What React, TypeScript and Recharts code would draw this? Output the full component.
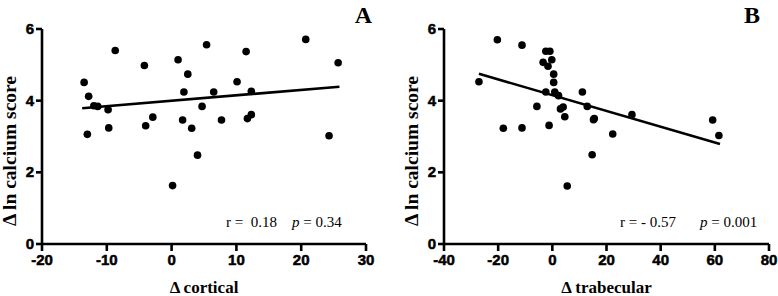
import React from "react";
import {
  ScatterChart,
  Scatter,
  XAxis,
  YAxis,
  ReferenceLine,
} from "recharts";

// panel A: Δ cortical vs Δ ln calcium score
const corticalX = [
  -13.5, -12.8, -13.0, -12.0, -11.4, -9.8, -9.7, -8.7, -4.2, -4.0, -2.9, 0.15,
  1.0, 1.7, 1.9, 2.5, 3.1, 4.0, 4.7, 5.4, 6.5, 7.7, 10.1, 11.5, 11.7, 12.3,
  12.3, 20.7, 24.3, 25.7,
];
const corticalY = [
  4.51, 4.12, 3.06, 3.86, 3.84, 3.75, 3.24, 5.4, 4.98, 3.3, 3.54, 1.63, 5.14,
  3.46, 4.24, 4.74, 3.23, 2.48, 3.84, 5.56, 4.24, 3.46, 4.53, 5.37, 3.5, 4.26,
  3.61, 5.71, 3.02, 5.06,
];
const corticalFit = [
  { x: -13.8, y: 3.79 },
  { x: 25.9, y: 4.39 },
];

// panel B: Δ trabecular vs Δ ln calcium score
const trabecularX = [
  -27.1, -20.3, -18.1, -11.2, -11.2, -5.7, -3.4, -2.4, -0.9, -1.6, -0.2, 0.5,
  0.5, -2.4, 0.9, 2.3, -1.2, 3.0, 4.0, 4.6, 5.5, 11.1, 12.9, 14.7, 15.2, 15.5,
  22.3, 29.4, 59.2, 61.5,
];
const trabecularY = [
  4.53, 5.7, 3.23, 5.55, 3.24, 3.84, 5.07, 5.38, 5.38, 4.96, 5.14, 4.74, 4.51,
  4.24, 4.24, 4.14, 3.31, 3.77, 3.82, 3.55, 1.62, 4.24, 3.84, 2.49, 3.47, 3.5,
  3.07, 3.61, 3.46, 3.03,
];
const trabecularFit = [
  { x: -27.1, y: 4.75 },
  { x: 61.9, y: 2.79 },
];

const yTicks = [0, 2, 4, 6];
const corticalTicks = [-20, -10, 0, 10, 20, 30];
const trabecularTicks = [-40, -20, 0, 20, 40, 60, 80];

const SANS = "'Liberation Sans', Arial, sans-serif";
const SERIF = "'Liberation Serif', 'Times New Roman', serif";

// the scanned figure has very heavy tick digits, a thin stroke thickens them
const tickFont: React.CSSProperties = {
  fontFamily: SANS,
  fontWeight: 700,
  fontSize: 15,
  fill: "#000",
  stroke: "#000",
  strokeWidth: 0.5,
};
const titleFont: React.CSSProperties = {
  fontFamily: SERIF,
  fontWeight: 700,
  fill: "#000",
};

const axisStroke = { stroke: "#000", strokeWidth: 2.6 };

const Dot = (props: any) => {
  const { cx, cy } = props;
  if (cx == null || cy == null) return <g />;
  return <circle cx={cx} cy={cy} r={3.8} fill="#000" />;
};

const XTick = (props: any) => {
  const { x, y, payload } = props;
  return (
    <text x={x} y={y + 11} textAnchor="middle" style={tickFont}>
      {payload.value}
    </text>
  );
};

const YTick = (props: any) => {
  const { x, y, payload } = props;
  return (
    <text x={x} y={y + 5} textAnchor="end" style={tickFont}>
      {payload.value}
    </text>
  );
};

function Panel({
  xs,
  ys,
  fit,
  xTicks,
  xLabel,
  letter,
  stats,
  left,
  width,
  yAxisWidth,
  marginRight,
}: {
  xs: number[];
  ys: number[];
  fit: { x: number; y: number }[];
  xTicks: number[];
  xLabel: string;
  letter: string;
  stats: React.ReactNode;
  left: number;
  width: number;
  yAxisWidth: number;
  marginRight: number;
}) {
  const data = xs.map((x, i) => ({ x, y: ys[i] }));
  const labelX = yAxisWidth - 33;
  const plotMid = (yAxisWidth + width - marginRight) / 2;
  return (
    <div style={{ position: "absolute", left, top: 0, width, height: 296 }}>
      <ScatterChart
        width={width}
        height={296}
        margin={{ top: 29, right: marginRight, bottom: 0, left: 0 }}
      >
        <XAxis
          type="number"
          dataKey="x"
          domain={[xTicks[0], xTicks[xTicks.length - 1]]}
          ticks={xTicks}
          height={52}
          tick={<XTick />}
          tickSize={7}
          tickMargin={3}
          axisLine={axisStroke}
          tickLine={axisStroke}
          label={{
            value: xLabel,
            content: () => (
              <text
                x={plotMid}
                y={293}
                textAnchor="middle"
                style={{ ...titleFont, fontSize: 17 }}
              >
                {xLabel}
              </text>
            ),
          }}
        />
        <YAxis
          type="number"
          dataKey="y"
          domain={[0, 6]}
          ticks={yTicks}
          width={yAxisWidth}
          tick={<YTick />}
          tickSize={6}
          tickMargin={2}
          axisLine={axisStroke}
          tickLine={axisStroke}
          label={{
            value: "Δ ln calcium score",
            content: () => (
              <text
                x={labelX}
                y={151}
                transform={`rotate(-90, ${labelX}, 151)`}
                textAnchor="middle"
                dominantBaseline="central"
                style={{ ...titleFont, fontSize: 19.5 }}
              >
                Δ ln calcium score
              </text>
            ),
          }}
        />
        <ReferenceLine
          segment={fit}
          stroke="#000"
          strokeWidth={2.6}
          ifOverflow="visible"
        />
        <Scatter data={data} shape={<Dot />} isAnimationActive={false} />
      </ScatterChart>
      <div
        style={{
          position: "absolute",
          right: 18,
          top: 2,
          fontFamily: SERIF,
          fontWeight: 700,
          fontSize: 24,
          lineHeight: "26px",
          color: "#000",
        }}
      >
        {letter}
      </div>
      {stats}
    </div>
  );
}

const statStyle: React.CSSProperties = {
  position: "absolute",
  top: 214,
  fontFamily: SERIF,
  fontSize: 15,
  lineHeight: "16px",
  color: "#000",
  whiteSpace: "pre",
};

export default function App() {
  return (
    <div
      style={{
        position: "absolute",
        left: 0,
        top: 0,
        width: 778,
        height: 296,
        background: "#fff",
      }}
    >
      <Panel
        xs={corticalX}
        ys={corticalY}
        fit={corticalFit}
        xTicks={corticalTicks}
        xLabel="Δ cortical"
        letter="A"
        left={0}
        width={390}
        yAxisWidth={42}
        marginRight={24}
        stats={
          <>
            <div style={{ ...statStyle, left: 226 }}>r =  0.18</div>
            <div style={{ ...statStyle, left: 292 }}>
              <i>p</i> = 0.34
            </div>
          </>
        }
      />
      <Panel
        xs={trabecularX}
        ys={trabecularY}
        fit={trabecularFit}
        xTicks={trabecularTicks}
        xLabel="Δ trabecular"
        letter="B"
        left={390}
        width={388}
        yAxisWidth={54}
        marginRight={9}
        stats={
          <>
            <div style={{ ...statStyle, left: 230 }}>r = - 0.57</div>
            <div style={{ ...statStyle, left: 310 }}>
              <i>p</i> = 0.001
            </div>
          </>
        }
      />
    </div>
  );
}
